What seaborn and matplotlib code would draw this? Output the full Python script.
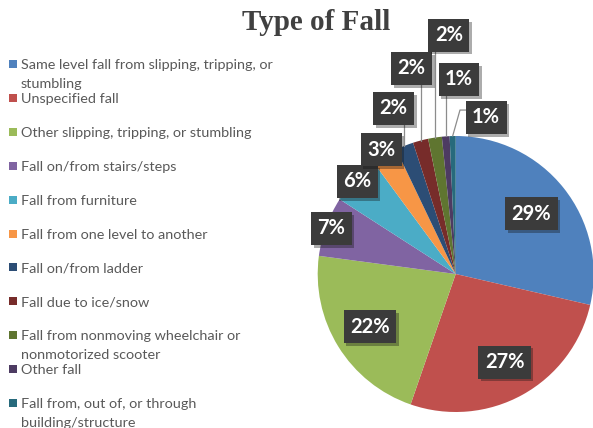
import numpy as np
import matplotlib
matplotlib.use("Agg")
import matplotlib.pyplot as plt
import matplotlib.patheffects as pe
from matplotlib.patches import Rectangle
import seaborn as sns

# --- data ---------------------------------------------------------------
categories = [
    "Same level fall from slipping, tripping, or\nstumbling",
    "Unspecified fall",
    "Other slipping, tripping, or stumbling",
    "Fall on/from stairs/steps",
    "Fall from furniture",
    "Fall from one level to another",
    "Fall on/from ladder",
    "Fall due to ice/snow",
    "Fall from nonmoving wheelchair or\nnonmotorized scooter",
    "Other fall",
    "Fall from, out of, or through\nbuilding/structure",
]
shares = [28.6, 26.7, 21.8, 7.0, 5.8, 3.0, 2.1, 1.8, 1.6, 0.9, 0.7]
colors = ["#4F81BD", "#C0504D", "#9BBB59", "#8064A2", "#4BACC6", "#F79646",
          "#2C4D75", "#772C2A", "#5F7530", "#4D3B62", "#276A7C"]

# label placement (layout only): radius along mid angle for the big slices,
# explicit spots with leader lines for the small ones
inner_radius = {0: 0.70, 1: 0.73, 2: 0.73, 3: 0.96, 4: 0.98, 5: 1.05}
outer_spot = {6: (-0.45, 1.20), 7: (-0.32, 1.49), 8: (-0.05, 1.73),
              9: (0.024, 1.41), 10: (0.22, 1.135)}

sns.set_theme(style="white")
plt.rcParams["font.family"] = ["Lato", "DejaVu Sans"]

W, H = 593, 428
fig = plt.figure(figsize=(W / 100, H / 100), dpi=100)

# pie axes placed so radius 1 == 138 px, centre at (455.7, 274)
cx, cy, r = 455.7, 274, 138
ax = fig.add_axes([(cx - r) / W, (H - cy - r) / H, 2 * r / W, 2 * r / H])
wedges, _ = ax.pie(shares, colors=colors, startangle=90, counterclock=False,
                   radius=1, wedgeprops=dict(linewidth=0))
ax.set_xlim(-1, 1)
ax.set_ylim(-1, 1)
ax.set_aspect("equal")
ax.axis("off")

total = sum(shares)
box_style = dict(boxstyle="square,pad=0.32", facecolor="#3B3B3B", edgecolor="none")
shadow = [pe.SimplePatchShadow(offset=(2, -2), alpha=0.35), pe.Normal()]

for i, w in enumerate(wedges):
    ang = np.deg2rad((w.theta1 + w.theta2) / 2)
    txt = f"{round(shares[i] / total * 100):.0f}%"
    if i in inner_radius:
        rr = inner_radius[i]
        x, y = rr * np.cos(ang), rr * np.sin(ang)
    else:
        x, y = outer_spot[i]
        ex, ey = np.cos(ang), np.sin(ang)
        if i == 10:
            ax.plot([ex, 0.031, 0.075], [ey, 1.188, 1.188], color="#8C8C8C",
                    lw=0.9, clip_on=False)
        else:
            ax.plot([ex, ex], [ey, y - 0.115], color="#8C8C8C", lw=0.9,
                    clip_on=False)
    t = ax.text(x, y, txt, ha="center", va="center", color="white",
                fontsize=14.5, fontweight="bold", bbox=box_style, clip_on=False,
                zorder=5)
    t.get_bbox_patch().set_path_effects(shadow)

# title
fig.text(316 / W, 1 - 22 / H, "Type of Fall", ha="center", va="center",
         fontsize=21, fontweight="bold", color="#404040",
         family=["Liberation Serif", "DejaVu Serif"])

# legend on the left (wrapped lines overflow into the gap, like Excel)
row0, step, line_h = 64, 33.9, 19
for i, (lab, col) in enumerate(zip(categories, colors)):
    yc = row0 + i * step
    fig.add_artist(Rectangle((9 / W, 1 - (yc + 4) / H), 8 / W, 8 / H,
                             transform=fig.transFigure, facecolor=col,
                             edgecolor="none"))
    for k, part in enumerate(lab.split("\n")):
        fig.text(21 / W, 1 - (yc + k * line_h) / H, part, ha="left",
                 va="center_baseline", fontsize=10.4, color="#595959")

fig.savefig("out.png", dpi=100)
